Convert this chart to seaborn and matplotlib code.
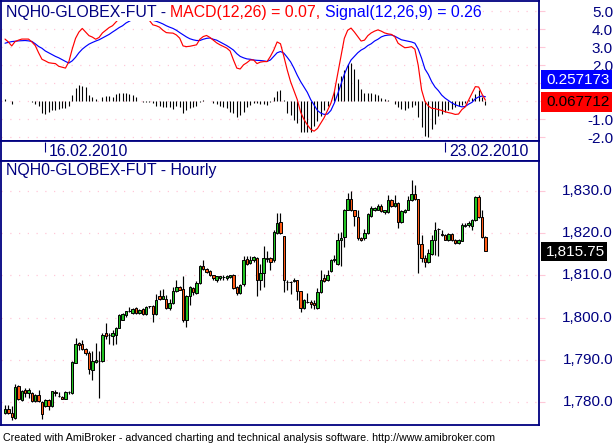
import numpy as np
import pandas as pd
import matplotlib
matplotlib.use('Agg')
import matplotlib.pyplot as plt
from matplotlib.patches import Rectangle
from matplotlib.transforms import blended_transform_factory
import seaborn as sns

sns.set_style('white')
plt.rcParams['font.family'] = ['Liberation Sans', 'DejaVu Sans']

# NQH0 hourly bars
opens = [1777.5, 1778.5, 1777.5, 1776.25, 1783.75, 1780.5, 1783.0, 1782.25, 1782.25, 1780.25,
         1781.75, 1780.0, 1779.0, 1780.5, 1779.0, 1782.5, 1781.5, 1781.25, 1780.75, 1782.5,
         1782.25, 1789.25, 1794.0, 1793.75, 1792.5, 1791.75, 1787.5, 1789.5, 1789.75, 1789.75,
         1796.25, 1796.0, 1795.75, 1796.0, 1797.5, 1799.5, 1800.5, 1801.5, 1801.0, 1802.25,
         1801.0, 1802.0, 1800.75, 1802.75, 1802.75, 1800.75, 1805.0, 1804.5, 1804.5, 1802.25,
         1803.5, 1806.25, 1807.25, 1806.75, 1799.5, 1805.0, 1807.0, 1805.75, 1808.25, 1812.25,
         1811.5, 1811.0, 1810.0, 1809.0, 1809.25, 1809.5, 1809.25, 1809.5, 1810.0, 1807.25,
         1805.75, 1808.0, 1813.75, 1813.0, 1813.5, 1814.0, 1809.0, 1810.5, 1813.75, 1814.0,
         1813.5, 1820.0, 1822.5, 1819.25, 1808.5, 1808.5, 1808.75, 1809.0, 1806.25, 1802.25,
         1803.75, 1803.75, 1803.5, 1802.25, 1806.0, 1809.25, 1809.0, 1811.0, 1813.5, 1812.75,
         1818.25, 1819.0, 1825.5, 1828.0, 1825.5, 1823.75, 1818.75, 1818.75, 1820.0, 1824.0,
         1825.5, 1825.5, 1826.5, 1825.0, 1825.0, 1827.75, 1826.5, 1827.0, 1822.5, 1825.0,
         1825.5, 1827.75, 1829.25, 1828.0, 1817.5, 1814.0, 1813.25, 1815.0, 1818.25, 1821.0,
         1819.75, 1819.5, 1818.25, 1819.75, 1818.25, 1817.75, 1818.0, 1821.75, 1822.0, 1821.75,
         1823.0, 1828.5, 1823.75, 1819.0]
highs = [1779.25, 1779.25, 1779.0, 1784.25, 1784.0, 1783.0, 1783.25, 1783.25, 1782.5, 1782.0,
         1783.0, 1780.25, 1780.75, 1780.75, 1782.75, 1783.0, 1782.5, 1781.5, 1782.75, 1782.75,
         1789.75, 1795.25, 1794.25, 1794.75, 1792.75, 1792.0, 1792.0, 1794.0, 1792.0, 1796.25,
         1798.75, 1796.25, 1797.0, 1797.75, 1800.75, 1801.0, 1801.5, 1802.5, 1802.25, 1802.5,
         1802.0, 1802.25, 1802.75, 1802.75, 1803.0, 1805.5, 1806.5, 1806.75, 1805.25, 1804.5,
         1807.25, 1809.0, 1807.5, 1809.75, 1805.25, 1807.5, 1807.25, 1808.75, 1812.5, 1813.5,
         1811.75, 1811.25, 1810.0, 1809.75, 1809.75, 1810.0, 1810.0, 1810.0, 1810.25, 1807.5,
         1808.0, 1814.5, 1814.5, 1814.5, 1814.5, 1814.25, 1812.75, 1817.0, 1815.75, 1814.25,
         1820.75, 1824.75, 1824.75, 1819.25, 1809.0, 1808.75, 1809.25, 1809.0, 1806.25, 1804.5,
         1805.75, 1804.25, 1804.25, 1807.0, 1811.25, 1810.25, 1811.25, 1813.75, 1814.75, 1820.0,
         1820.25, 1825.75, 1829.5, 1830.0, 1825.5, 1825.5, 1819.0, 1821.0, 1824.75, 1826.5,
         1826.25, 1826.75, 1826.75, 1825.5, 1829.0, 1828.0, 1829.0, 1827.25, 1825.5, 1825.75,
         1828.75, 1832.5, 1831.25, 1828.0, 1819.5, 1814.75, 1816.25, 1819.5, 1822.5, 1821.25,
         1820.75, 1819.75, 1820.0, 1820.0, 1818.5, 1818.5, 1822.25, 1822.25, 1822.75, 1823.25,
         1828.75, 1829.0, 1825.5, 1819.25]
lows = [1777.25, 1777.25, 1775.75, 1776.0, 1780.5, 1780.25, 1781.25, 1781.0, 1780.0, 1780.0,
        1780.0, 1776.0, 1778.75, 1778.25, 1778.75, 1781.5, 1781.25, 1780.75, 1780.75, 1782.0,
        1782.0, 1789.25, 1792.25, 1792.25, 1791.25, 1786.75, 1785.25, 1789.25, 1781.0, 1789.5,
        1795.0, 1793.75, 1793.5, 1793.75, 1797.5, 1799.5, 1800.25, 1801.25, 1800.75, 1800.75,
        1800.75, 1800.5, 1800.5, 1802.25, 1799.0, 1800.5, 1804.25, 1804.5, 1802.0, 1801.75,
        1803.25, 1806.0, 1806.5, 1799.0, 1797.75, 1803.0, 1805.25, 1805.5, 1808.0, 1811.25,
        1810.5, 1809.75, 1809.0, 1808.5, 1809.0, 1809.0, 1809.0, 1809.25, 1806.75, 1805.25,
        1805.5, 1807.5, 1812.5, 1812.75, 1813.25, 1805.0, 1806.5, 1807.25, 1813.25, 1811.25,
        1813.25, 1819.75, 1819.75, 1806.0, 1806.5, 1805.5, 1808.5, 1804.25, 1801.25, 1802.0,
        1803.5, 1802.25, 1802.0, 1802.0, 1805.75, 1808.5, 1808.75, 1810.75, 1813.25, 1812.5,
        1812.25, 1816.75, 1825.5, 1825.25, 1821.75, 1818.25, 1818.0, 1818.25, 1819.75, 1823.75,
        1825.25, 1825.5, 1825.0, 1824.5, 1824.75, 1826.25, 1826.25, 1821.25, 1822.25, 1824.75,
        1825.5, 1827.5, 1827.75, 1810.5, 1813.25, 1812.0, 1813.0, 1814.75, 1814.75, 1814.5,
        1819.25, 1818.25, 1818.0, 1818.0, 1817.5, 1817.5, 1818.0, 1821.5, 1821.5, 1820.75,
        1822.75, 1823.5, 1818.75, 1815.75]
closes = [1778.5, 1777.5, 1776.5, 1783.5, 1780.75, 1782.75, 1782.25, 1783.0, 1780.25, 1781.75,
          1780.25, 1777.25, 1780.5, 1779.0, 1782.75, 1782.25, 1781.5, 1780.75, 1782.5, 1782.5,
          1789.5, 1793.75, 1793.5, 1792.5, 1791.75, 1787.75, 1789.75, 1790.0, 1789.75, 1796.0,
          1795.75, 1796.0, 1796.25, 1797.5, 1800.5, 1800.75, 1801.5, 1801.5, 1802.0, 1801.0,
          1801.75, 1800.75, 1802.5, 1802.75, 1800.75, 1804.25, 1804.5, 1805.0, 1802.25, 1803.5,
          1806.25, 1807.25, 1806.5, 1799.5, 1805.0, 1807.25, 1806.0, 1808.25, 1812.25, 1811.5,
          1810.75, 1810.0, 1809.25, 1809.75, 1809.75, 1809.5, 1809.75, 1810.0, 1807.0, 1805.75,
          1807.75, 1813.5, 1812.75, 1813.5, 1814.25, 1809.0, 1810.5, 1814.0, 1814.0, 1813.25,
          1820.25, 1822.25, 1820.0, 1809.0, 1808.5, 1808.5, 1809.0, 1806.25, 1802.25, 1804.25,
          1803.75, 1803.25, 1803.0, 1806.0, 1809.0, 1808.75, 1810.0, 1813.5, 1813.75, 1818.25,
          1818.75, 1825.5, 1828.0, 1825.5, 1824.0, 1818.75, 1818.25, 1820.0, 1824.5, 1826.0,
          1826.0, 1826.5, 1825.25, 1825.5, 1827.75, 1826.5, 1827.0, 1822.5, 1825.25, 1825.5,
          1827.75, 1829.25, 1828.0, 1817.5, 1814.0, 1813.25, 1815.25, 1818.25, 1820.75, 1821.0,
          1819.5, 1818.25, 1819.75, 1818.25, 1817.75, 1818.25, 1822.0, 1822.0, 1822.25, 1823.0,
          1828.5, 1823.75, 1819.0, 1815.75]

macd = [3.46, 3.3, 3.08, 3.32, 3.4, 3.46, 3.46, 3.46, 3.3, 3.1,
        2.7, 2.34, 2.25, 2.15, 2.12, 2.1, 1.95, 1.9, 1.85, 2.2,
        2.9, 3.5, 3.85, 4.05, 3.85, 3.65, 3.57, 3.45, 3.55, 3.8,
        3.95, 4.1, 4.2, 4.4, 4.6, 4.8, 4.95, 5.05, 5.1, 5.0,
        4.9, 4.75, 4.6, 4.49, 4.25, 4.2, 4.12, 3.95, 3.82, 3.8,
        3.79, 3.69, 3.51, 3.08, 3.04, 3.06, 3.1, 3.14, 3.45, 3.6,
        3.66, 3.55, 3.4, 3.25, 3.14, 3.05, 2.96, 2.8, 2.3, 1.85,
        1.8, 2.03, 2.15, 2.3, 2.3, 2.1, 2.18, 2.21, 2.21, 2.5,
        2.85, 3.3, 3.2, 2.5, 1.75, 1.1, 0.6, 0.1, -0.6, -1.0,
        -1.3, -1.55, -1.65, -1.5, -1.2, -0.9, -0.5, -0.1, 0.5, 1.5,
        2.5, 3.5, 3.95, 4.07, 3.85, 3.6, 3.35, 3.4, 3.65, 3.8,
        3.9, 3.97, 3.9, 3.8, 3.75, 3.72, 3.6, 3.23, 3.1, 2.98,
        3.0, 3.04, 2.9, 2.0, 0.64, 0.0, -0.25, -0.38, -0.4, -0.45,
        -0.5, -0.57, -0.62, -0.66, -0.72, -0.7, -0.45, -0.3, 0.08, 0.45,
        0.82, 0.8, 0.4, 0.07]
signal = [3.23, 3.28, 3.32, 3.34, 3.36, 3.37, 3.38, 3.36, 3.33, 3.2,
          3.05, 2.95, 2.8, 2.7, 2.6, 2.5, 2.42, 2.32, 2.22, 2.13,
          2.25, 2.45, 2.7, 2.9, 3.05, 3.18, 3.27, 3.35, 3.42, 3.52,
          3.62, 3.72, 3.85, 3.97, 4.1, 4.2, 4.35, 4.45, 4.55, 4.62,
          4.66, 4.66, 4.63, 4.56, 4.5, 4.45, 4.38, 4.3, 4.2, 4.12,
          4.05, 3.95, 3.82, 3.7, 3.58, 3.48, 3.42, 3.38, 3.38, 3.45,
          3.5, 3.52, 3.45, 3.4, 3.3, 3.2, 3.1, 2.98, 2.85, 2.65,
          2.5, 2.42, 2.36, 2.34, 2.3, 2.28, 2.27, 2.25, 2.22, 2.3,
          2.5, 2.7, 2.77, 2.68, 2.45, 2.2, 1.85, 1.45, 1.1, 0.8,
          0.5, 0.1, -0.2, -0.5, -0.65, -0.72, -0.7, -0.5, -0.1, 0.4,
          0.95, 1.5, 1.95, 2.3, 2.5, 2.7, 2.85, 2.95, 3.1, 3.2,
          3.35, 3.45, 3.58, 3.65, 3.68, 3.69, 3.62, 3.52, 3.42, 3.38,
          3.34, 3.3, 3.23, 2.9, 2.4, 1.8, 1.5, 1.1, 0.8, 0.6,
          0.35, 0.18, 0.05, -0.08, -0.18, -0.25, -0.3, -0.28, -0.15, -0.05,
          0.15, 0.25, 0.3, 0.26]
hist = [0.14, 0.05, -0.12, 0.03, 0.03, 0.04, 0.04, 0.03, -0.03, -0.12,
        -0.25, -0.65, -0.7, -0.57, -0.48, -0.48, -0.43, -0.38, -0.38, -0.25,
        0.36, 0.73, 0.92, 0.86, 0.79, 0.36, 0.23, 0.12, 0.03, 0.27,
        0.31, 0.31, 0.27, 0.42, 0.49, 0.49, 0.49, 0.42, 0.36, 0.23,
        0.03, -0.03, -0.05, -0.05, -0.1, -0.25, -0.25, -0.32, -0.32, -0.32,
        -0.43, -0.25, -0.32, -0.65, -0.47, -0.38, -0.29, -0.25, -0.05, 0.08,
        0.05, 0.0, -0.06, -0.14, -0.25, -0.29, -0.38, -0.56, -0.65, -0.84,
        -0.75, -0.56, -0.32, -0.19, -0.1, -0.1, -0.14, -0.14, -0.19, -0.01,
        0.27, 0.6, 0.64, 0.08, -0.65, -0.75, -1.03, -1.2, -1.68, -1.68,
        -1.68, -1.68, -1.36, -1.06, -0.8, -0.5, -0.25, 0.08, 0.6, 1.05,
        1.42, 1.75, 2.05, 2.12, 1.79, 1.23, 0.68, 0.47, 0.45, 0.45,
        0.42, 0.34, 0.18, 0.12, 0.06, 0.0, -0.14, -0.29, -0.4, -0.47,
        -0.38, -0.29, -0.21, -0.88, -1.44, -1.92, -1.95, -1.55, -1.25, -0.8,
        -0.69, -0.58, -0.47, -0.4, -0.31, -0.25, -0.18, -0.06, 0.08, 0.18,
        0.42, 0.64, 0.23, -0.19]

price_ticks = [1830, 1820, 1810, 1800, 1790, 1780]
macd_ticks = [5, 4, 3, 2, 1, 0, -1, -2]
macd_labels = {5: '5.0', 4: '4.0', 3: '3.0', 2: '2.0', -1: '-1.0', -2: '-2.0'}  # 1.0 / 0.0 sit under the flags
date_bars = [12, 131]
date_labels = ['16.02.2010', '23.02.2010']
last_price = 1815.75
signal_last = 0.257173
macd_last = 0.067712

NAVY = '#000080'
GRID = '#ffc8d8'
W, H = 616, 446
FS = 11.4


def box(x0, y0, x1, y1):
    # pixel box (top-left origin) -> figure fraction rect
    return [x0 / W, 1 - y1 / H, (x1 - x0) / W, (y1 - y0) / H]


df = pd.DataFrame({'bar': np.arange(len(closes)), 'open': opens, 'high': highs,
                   'low': lows, 'close': closes, 'macd': macd, 'signal': signal,
                   'hist': hist})

fig = plt.figure(figsize=(6.16, 4.46), dpi=100)
ax1 = fig.add_axes(box(0.5, 0.5, 538.5, 140.5))
axd = fig.add_axes(box(0.5, 140.5, 538.5, 160.5))
ax2 = fig.add_axes(box(0.5, 160.5, 538.5, 424.5))

xlim = (-1.34, 158.8)
for ax in (ax1, axd, ax2):
    ax.set_xlim(*xlim)
    ax.set_xticks([])
    for s in ax.spines.values():
        s.set_color(NAVY)
        s.set_linewidth(1.3)
        s.set_visible(True)

# MACD pane
ax1.set_ylim(-2.167, 5.6)
for v in macd_ticks:
    ax1.axhline(v, color=GRID, lw=0.9, ls=(0, (1, 6)), zorder=0)
ax1.vlines(df['bar'], 0, df['hist'], color='black', lw=0.8, zorder=1)
sns.lineplot(data=df, x='bar', y='signal', ax=ax1, color='#0000ff', lw=0.85, zorder=2)
sns.lineplot(data=df, x='bar', y='macd', ax=ax1, color='#ff0000', lw=0.85, zorder=2)
ax1.set_xlabel('')
ax1.set_ylabel('')
ax1.set_yticks(macd_ticks)
ax1.tick_params(axis='y', left=False, right=True, labelleft=False, labelright=False,
                direction='out', length=4, color=GRID, width=0.8)
t1 = blended_transform_factory(fig.transFigure, ax1.transData)
for v, lab in macd_labels.items():
    ax1.text(613 / W, v - 0.1, lab, transform=t1, ha='right', va='center',
             fontsize=11, color=NAVY, clip_on=False)

# white title strip over the lines, then the three coloured title pieces
fig.add_artist(Rectangle((2 / W, 1 - 21 / H), 478 / W, 19.5 / H, transform=fig.transFigure,
                         facecolor='white', edgecolor='none', zorder=1))
renderer = fig.canvas.get_renderer()
space = 4.4
x = 5.5
for piece, col in [('NQH0-GLOBEX-FUT -', NAVY), ('MACD(12,26) = 0.07,', '#ff0000'),
                   ('Signal(12,26,9) = 0.26', '#0000ff')]:
    t = fig.text(x / W, 1 - 17 / H, piece, color=col, fontsize=FS, va='baseline', zorder=3)
    x = t.get_window_extent(renderer=renderer).x1 + space

# value flags on the MACD scale
fig.add_artist(Rectangle((540.5 / W, 1 - 89 / H), 71.5 / W, 19 / H, transform=fig.transFigure,
                         facecolor='#0000ff', edgecolor='none', zorder=2))
fig.text(578 / W, 1 - 80 / H, f'{signal_last:.6f}', color='white', fontsize=11,
         ha='center', va='center', zorder=3)
fig.add_artist(Rectangle((540.5 / W, 1 - 112 / H), 71.5 / W, 20 / H, transform=fig.transFigure,
                         facecolor='#ff0000', edgecolor='none', zorder=2))
fig.text(578 / W, 1 - 102.5 / H, f'{macd_last:.6f}', color='black', fontsize=11,
         ha='center', va='center', zorder=3)

# date strip
axd.set_ylim(0, 1)
axd.set_yticks([])
for b, lab in zip(date_bars, date_labels):
    axd.vlines(b, 0.425, 0.925, color=NAVY, lw=0.8)
    axd.text(b + 1.1, 0.47, lab, color=NAVY, fontsize=FS, ha='left', va='center')

# price pane
ax2.set_ylim(1774.73, 1837.14)
for v in price_ticks:
    ax2.axhline(v, color=GRID, lw=0.9, ls=(0, (1, 6)), zorder=0)
up = df['close'] >= df['open']
body_lo = np.minimum(df['open'], df['close'])
body_h = (df['close'] - df['open']).abs()
colors = np.where(up, '#22c322', '#ff5a14')
ax2.vlines(df['bar'], df['low'], df['high'], color='black', lw=0.85, zorder=2)
ax2.bar(df['bar'], body_h, bottom=body_lo, width=0.72, color=colors,
        edgecolor='black', linewidth=0.7, zorder=3)
ax2.set_yticks(price_ticks)
ax2.tick_params(axis='y', left=False, right=True, labelleft=False, labelright=False,
                direction='out', length=4, color=GRID, width=0.8)
t2 = blended_transform_factory(fig.transFigure, ax2.transData)
for v in price_ticks:
    ax2.text(613 / W, v, f'{v:,.1f}', transform=t2, ha='right', va='center',
             fontsize=11, color=NAVY, clip_on=False)
ax2.text(5.5 / W, 1 - 171 / H, 'NQH0-GLOBEX-FUT - Hourly', transform=fig.transFigure,
         color=NAVY, fontsize=FS, va='center')

fig.add_artist(Rectangle((541 / W, 1 - 261 / H), 66 / W, 19.5 / H, transform=fig.transFigure,
                         facecolor='black', edgecolor='none', zorder=2))
fig.text(575.5 / W, 1 - 251.5 / H, f'{last_price:,.2f}', color='white', fontsize=11,
         ha='center', va='center', zorder=3)

fig.text(3 / W, 1 - 438 / H,
         'Created with AmiBroker - advanced charting and technical analysis software. '
         'http://www.amibroker.com',
         fontsize=7.7, color='black', va='center')

fig.savefig('out.png', dpi=100)
